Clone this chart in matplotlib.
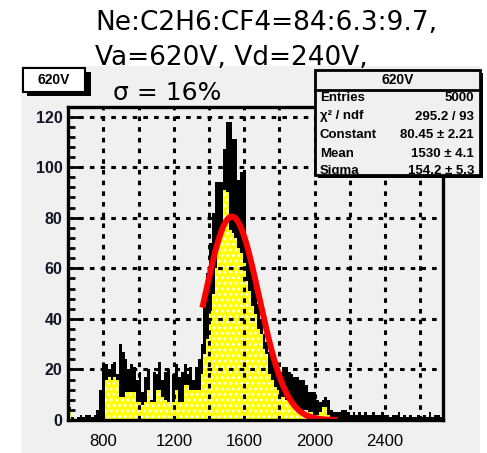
import numpy as np
import matplotlib.pyplot as plt
from matplotlib.patches import Rectangle

plt.rcParams['hatch.linewidth'] = 1.2

BIN_START = 600
BIN_WIDTH = 16

# all events (black)
counts_all = [5, 1, 0, 1, 2, 1, 2, 2, 1, 2,
              4, 12, 21, 22, 20, 22, 23, 18, 30, 27,
              24, 20, 22, 21, 16, 19, 11, 17, 20, 8,
              19, 18, 23, 16, 19, 20, 6, 18, 22, 17,
              19, 22, 18, 21, 16, 21, 24, 30, 45, 58,
              70, 82, 94, 94, 94, 107, 118, 118, 111, 111,
              95, 98, 98, 70, 64, 58, 52, 46, 40, 34,
              31, 27, 24, 22, 20, 19, 21, 21, 19, 18,
              17, 17, 16, 16, 14, 11, 11, 11, 8, 7,
              8, 9, 8, 4, 3, 3, 3, 4, 4, 3,
              2, 3, 2, 3, 2, 3, 2, 2, 3, 2,
              2, 3, 2, 2, 1, 2, 2, 3, 1, 2,
              1, 2, 1, 1, 2, 1, 2, 1, 3, 1,
              2, 2, 1, 1]

# selected events (yellow)
counts_sel = ([4] + [0] * 12 +
              [16, 17, 16, 17, 16, 9, 9, 11, 11, 11,
               11, 7, 7, 6, 7, 12, 7, 7, 12, 12,
               9, 8, 7, 6, 7, 12, 7, 7, 14, 14,
               12, 12, 12, 12, 18, 26, 32, 43, 50, 60,
               70, 76, 91, 90, 75, 74, 72, 68, 66, 62,
               55, 51, 45, 42, 36, 34, 28, 26, 18, 16,
               13, 12, 9, 9, 8, 8, 6, 6, 5, 4,
               4, 4, 3, 3, 2, 2, 3, 5, 5, 2, 1] +
              [0] * 40)

fit_const = 80.45
fit_mean = 1530
fit_sigma = 154.2
fit_lo, fit_hi = 1362, 2128

x_range = (600, 2730)
y_max = 123.9
x_ticks = [800, 1200, 1600, 2000, 2400]
y_ticks = [0, 20, 40, 60, 80, 100, 120]

stats_title = "620V"
stats_rows = [("Entries", "5000"),
              ("\u03c7\u00b2 / ndf", "295.2 / 93"),
              ("Constant", "80.45 \u00b1 2.21"),
              ("Mean", "1530 \u00b1 4.1"),
              ("Sigma", "154.2 \u00b1 5.3")]

title_lines = ["Ne:C2H6:CF4=84:6.3:9.7,", "Va=620V, Vd=240V,"]
hist_name = "620V"
resolution = "\u03c3 = 16%"

W, H = 487, 453
fig = plt.figure(figsize=(W / 100, H / 100), dpi=100)
fig.patch.set_facecolor('white')


def px(x, y):
    return x / W, 1 - y / H


# canvas background
fig.patches.append(Rectangle(px(21, 453), 459 / W, 387 / H,
                             transform=fig.transFigure, facecolor='#f0f0f0',
                             edgecolor='none', zorder=-5))

ax = fig.add_axes([68.3 / W, 1 - 420 / H, (443 - 68.3) / W, (420 - 106.7) / H])
ax.set_zorder(1)
ax.set_facecolor('#f0f0f0')

edges = BIN_START + BIN_WIDTH * np.arange(len(counts_all) + 1)
ax.stairs(counts_all, edges, fill=True, color='black', zorder=1)
ax.stairs(counts_sel, edges, fill=True, facecolor='#ffff00', edgecolor='white',
          hatch='...', linewidth=0, zorder=1.5)

xf = np.linspace(fit_lo, fit_hi, 300)
yf = fit_const * np.exp(-0.5 * ((xf - fit_mean) / fit_sigma) ** 2)
ax.plot(xf, yf, color='#ff0000', lw=4.3, zorder=3, solid_capstyle='butt')

grid_x = np.arange(800, 2700, 200)
ax.set_xlim(*x_range)
ax.set_ylim(0, y_max)
ax.set_xticks(grid_x)
ax.set_xticklabels([str(v) if v in x_ticks else '' for v in grid_x],
                   fontsize=12, family='Liberation Sans')
ax.set_yticks(y_ticks)
ax.set_yticks(np.arange(0, 124, 4), minor=True)
ax.set_yticklabels([str(v) for v in y_ticks], fontsize=11.5, fontweight='bold',
                   family='Liberation Sans', color='#141428')
ax.tick_params(axis='y', which='major', direction='in', length=9, width=2, pad=4)
ax.tick_params(axis='y', which='minor', direction='in', length=5, width=2)
ax.tick_params(axis='x', which='major', direction='out', length=0, pad=10)

ax.set_axisbelow(False)
ax.grid(True, color='black', lw=2.2, linestyle=(0, (1.5, 2.0)))
for s in ax.spines.values():
    s.set_linewidth(2.4)
    s.set_zorder(4)

# title above the canvas
fig.text(95 / W, 1 - 30 / H, title_lines[0], fontsize=19, family='DejaVu Sans',
         va='baseline', ha='left')
fig.text(95 / W, 1 - 65 / H, title_lines[1], fontsize=19, family='DejaVu Sans',
         va='baseline', ha='left')
fig.text(113 / W, 1 - 100 / H, resolution, fontsize=18, family='DejaVu Sans',
         va='baseline', ha='left')

# histogram name box with shadow
fig.patches.append(Rectangle(px(27, 96), 64 / W, 24 / H, transform=fig.transFigure,
                             facecolor='black', edgecolor='none', zorder=5))
fig.patches.append(Rectangle(px(23, 92), 62 / W, 24 / H, transform=fig.transFigure,
                             facecolor='white', edgecolor='black', lw=1.5, zorder=6))
fig.text(54 / W, 1 - 80.5 / H, hist_name, fontsize=10, fontweight='bold',
         family='Liberation Sans', ha='center', va='center', zorder=7)

# statistics box
bx0, by0, bx1, by1 = 315, 70, 480, 175
fig.patches.append(Rectangle(px(bx0 + 3, by1 + 3), (bx1 - bx0) / W, (by1 - by0) / H,
                             transform=fig.transFigure, facecolor='black',
                             edgecolor='none', zorder=5))
fig.patches.append(Rectangle(px(bx0, by1), (bx1 - bx0) / W, (by1 - by0) / H,
                             transform=fig.transFigure, facecolor='#f0f0f0',
                             edgecolor='black', lw=2, zorder=6))
fig.lines.append(plt.Line2D([bx0 / W, bx1 / W], [1 - 90 / H, 1 - 90 / H],
                            transform=fig.transFigure, color='black', lw=2, zorder=7))
fig.text((bx0 + bx1) / 2 / W, 1 - 80 / H, stats_title, fontsize=10, fontweight='bold',
         family='Liberation Sans', ha='center', va='center', zorder=8)
row_y = [98, 116.5, 135, 153.5, 171]
for (name, val), yy in zip(stats_rows, row_y):
    fig.text(320 / W, 1 - yy / H, name, fontsize=9.5, fontweight='bold',
             family='Liberation Sans', ha='left', va='center', zorder=8)
    fig.text(474 / W, 1 - yy / H, val, fontsize=9.5, fontweight='bold',
             family='Liberation Sans', ha='right', va='center', zorder=8)

fig.savefig('out.png', dpi=100)
